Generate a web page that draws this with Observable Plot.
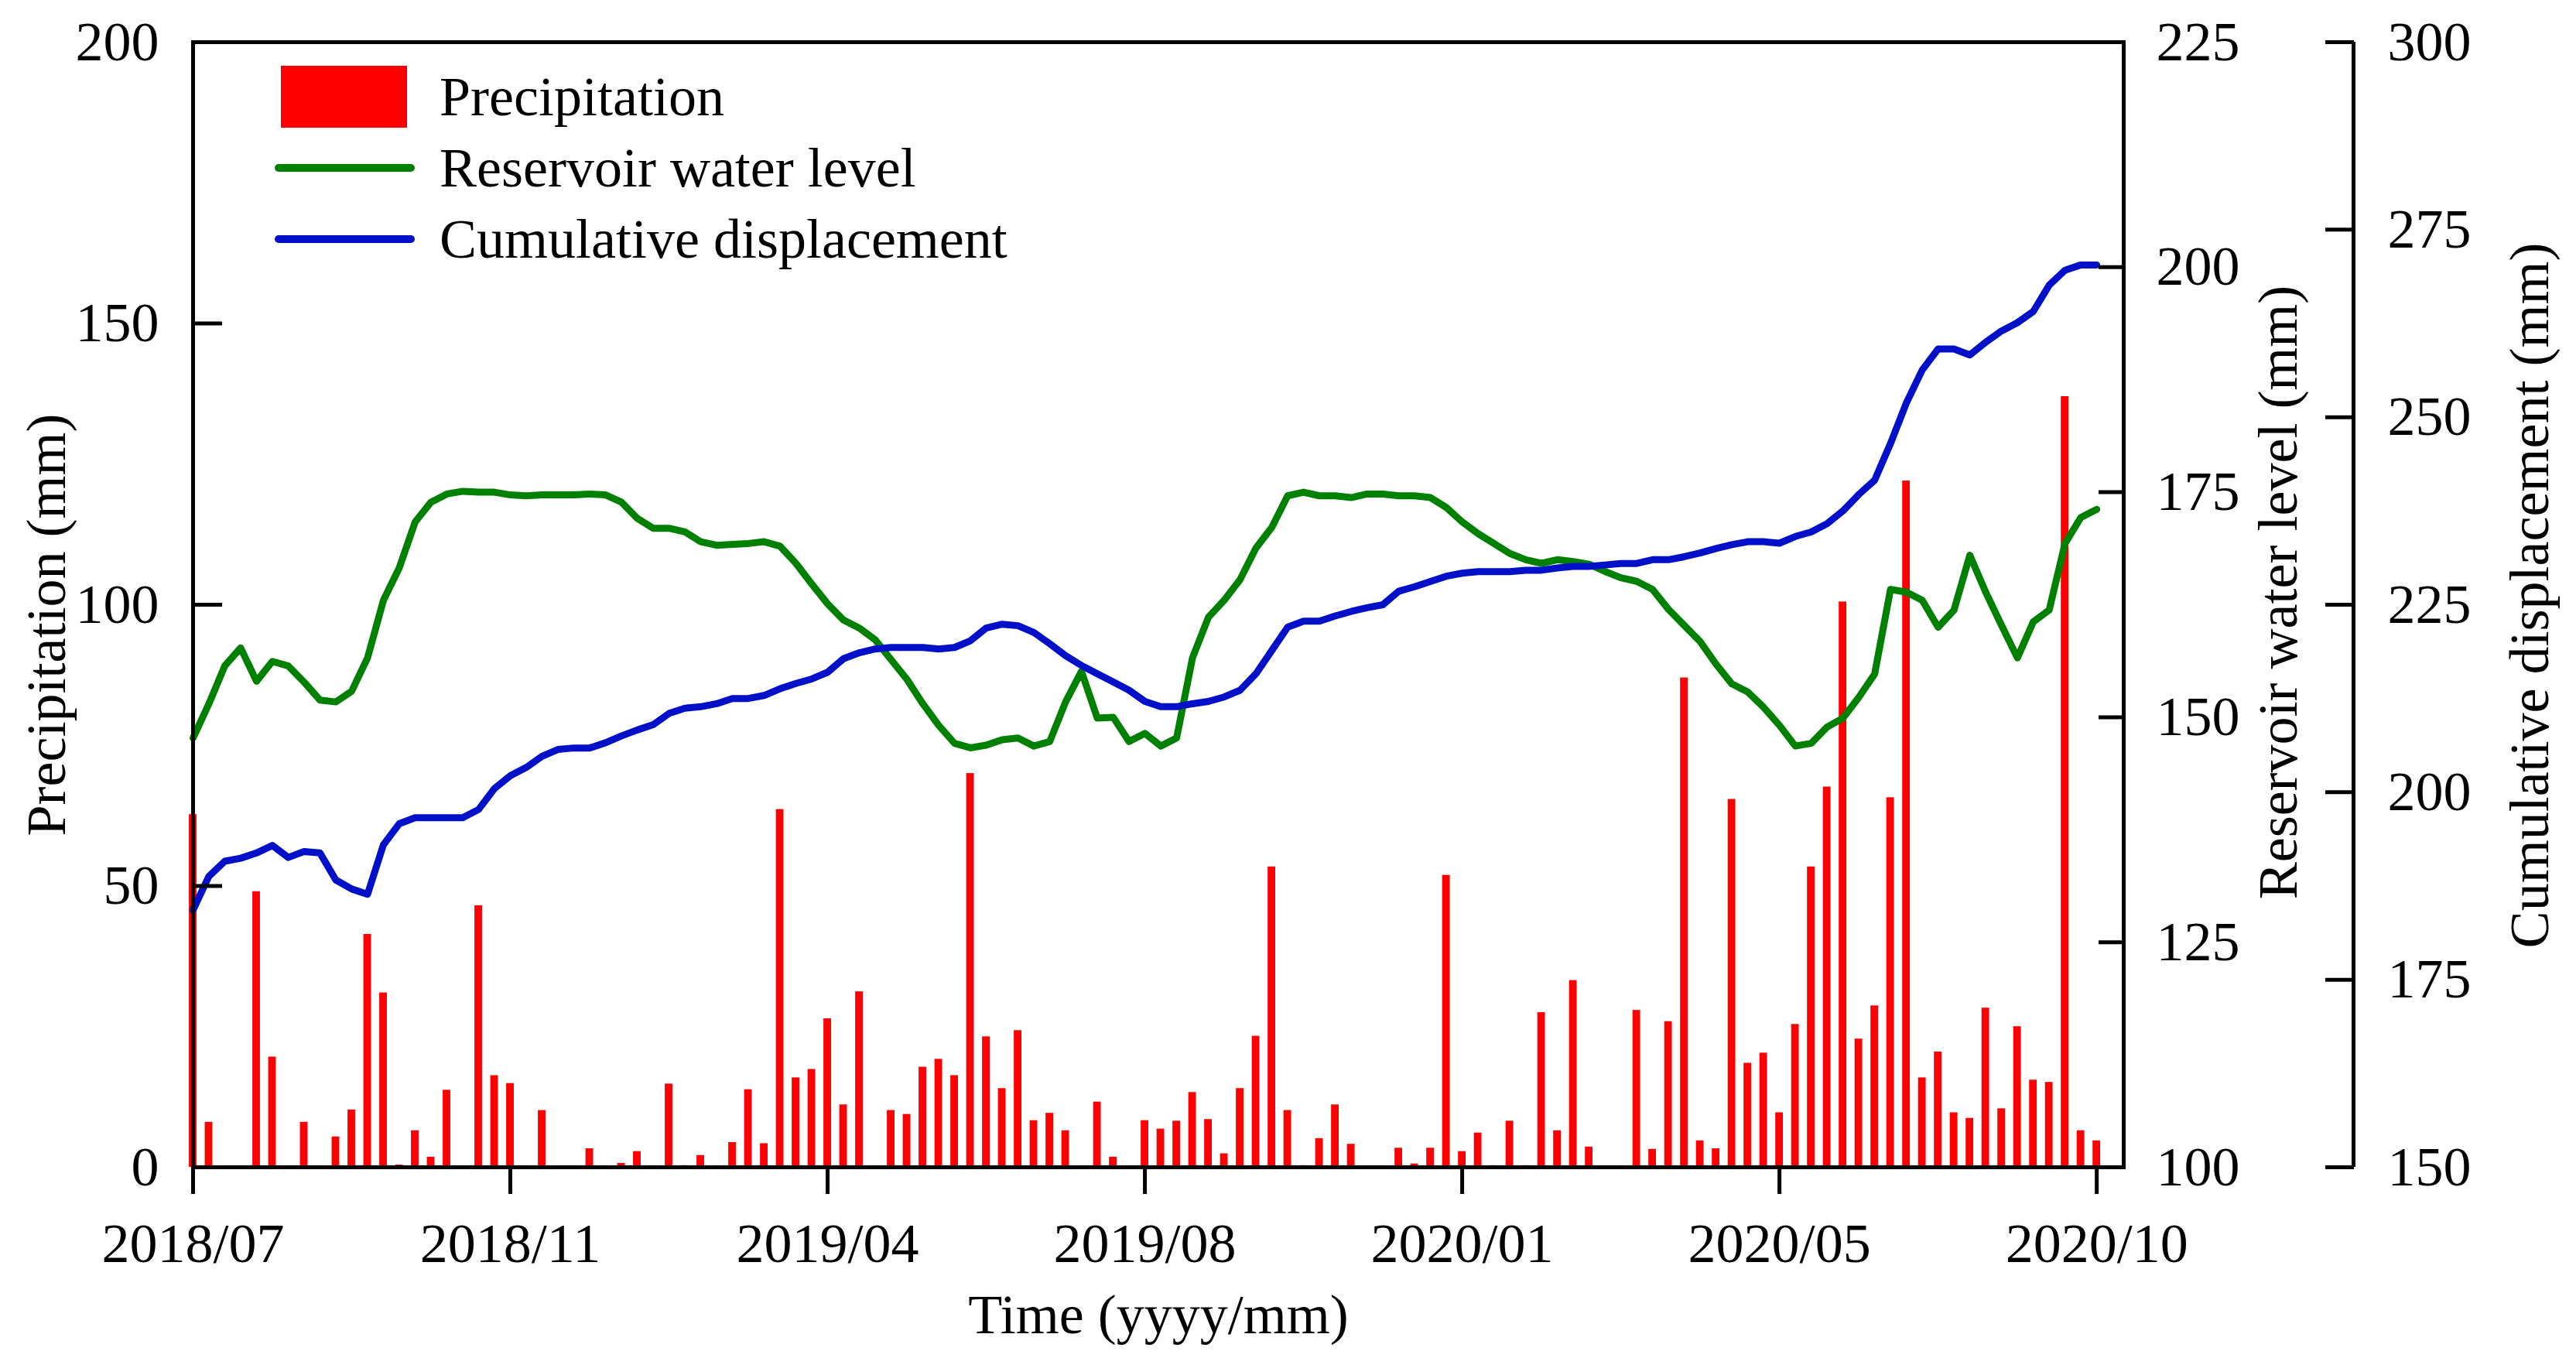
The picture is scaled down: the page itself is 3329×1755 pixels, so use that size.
<!DOCTYPE html>
<html><head><meta charset="utf-8">
<script src="https://cdn.jsdelivr.net/npm/d3@7"></script>
<script src="https://cdn.jsdelivr.net/npm/@observablehq/plot@0.6"></script>
<style>
html,body{margin:0;padding:0;background:#fff;}
#chart svg{display:block;}
</style></head><body><div id="chart"></div>
<script>
// ---- data ----
const xTickIndex = [0, 20, 40, 60, 80, 100, 120];
const xTickLabels = ["2018/07", "2018/11", "2019/04", "2019/08", "2020/01", "2020/05", "2020/10"];

const precipitation = [
  62.7, 8, 0, 0, 49, 19.6, 0, 8, 0, 5.4, 10.2, 41.4, 31, 0.4, 6.5, 1.8, 13.7, 0, 46.5, 16.3,
  14.9, 0, 10.1, 0, 0, 3.3, 0, 0.7, 2.8, 0, 14.8, 0.3, 2.1, 0, 4.4, 13.8, 4.2, 63.6, 15.9, 17.4,
  26.4, 11.1, 31.2, 0, 10.1, 9.4, 17.8, 19.2, 16.3, 70, 23.2, 14.0, 24.3, 8.3, 9.6, 6.5, 0, 11.6, 1.8, 0,
  8.3, 6.8, 8.2, 13.3, 8.5, 2.4, 14.0, 23.3, 53.4, 10.1, 0.3, 5.1, 11.1, 4.1, 0, 0, 3.4, 0.6, 3.4, 51.9,
  2.8, 6.1, 0.3, 8.2, 0.3, 27.5, 6.5, 33.2, 3.6, 0, 0, 27.9, 3.2, 25.9, 87, 4.7, 3.3, 65.4, 18.5, 20.3,
  9.7, 25.4, 53.4, 67.6, 100.5, 22.8, 28.7, 65.7, 122, 15.9, 20.5, 9.7, 8.7, 28.3, 10.4, 25.0, 15.5, 15.1, 137, 6.5,
  4.7
];

const reservoirLevel = [
  147.7, 151.5, 155.7, 157.7, 154.0, 156.2, 155.7, 153.9, 151.9, 151.7, 152.9, 156.6, 163.0, 166.6, 171.7, 173.9, 174.8, 175.1, 175.0, 175.0,
  174.7, 174.6, 174.7, 174.7, 174.7, 174.8, 174.7, 173.9, 172.1, 171.0, 171.0, 170.6, 169.5, 169.1, 169.2, 169.3, 169.5, 169.0, 167.1, 164.8,
  162.6, 160.8, 159.9, 158.6, 156.4, 154.2, 151.5, 149.1, 147.1, 146.6, 146.9, 147.5, 147.7, 146.8, 147.3, 151.7, 155.1, 149.9, 150.0, 147.3,
  148.2, 146.8, 147.7, 156.6, 161.1, 163.0, 165.3, 168.8, 171.1, 174.6, 175.0, 174.6, 174.6, 174.4, 174.8, 174.8, 174.6, 174.6, 174.4, 173.3,
  171.7, 170.4, 169.3, 168.2, 167.5, 167.1, 167.5, 167.3, 167.0, 166.2, 165.5, 165.1, 164.2, 162.0, 160.2, 158.4, 155.9, 153.7, 152.8, 151.1,
  149.1, 146.8, 147.1, 148.9, 149.9, 152.2, 154.8, 164.2, 163.9, 163.0, 160.0, 161.9, 168.0, 163.9, 160.2, 156.6, 160.6, 161.9, 169.3, 172.2,
  173.1
];

const displacement = [
  184.3, 188.8, 190.8, 191.2, 191.9, 192.9, 191.3, 192.1, 191.9, 188.3, 187.1, 186.4, 193.0, 195.8, 196.6, 196.6, 196.6, 196.6, 197.7, 200.5,
  202.2, 203.3, 204.8, 205.7, 205.9, 205.9, 206.6, 207.5, 208.3, 209.0, 210.5, 211.2, 211.4, 211.8, 212.5, 212.5, 212.9, 213.8, 214.5, 215.1,
  216.0, 217.8, 218.6, 219.1, 219.3, 219.3, 219.3, 219.1, 219.3, 220.2, 221.9, 222.4, 222.2, 221.3, 219.8, 218.2, 216.9, 215.8, 214.7, 213.6,
  212.1, 211.4, 211.4, 211.8, 212.1, 212.7, 213.6, 215.8, 218.9, 222.0, 222.8, 222.8, 223.5, 224.1, 224.6, 225.0, 226.8, 227.4, 228.1, 228.8,
  229.2, 229.4, 229.4, 229.4, 229.6, 229.6, 229.9, 230.1, 230.1, 230.3, 230.5, 230.5, 231.0, 231.0, 231.4, 231.9, 232.5, 233.0, 233.4, 233.4,
  233.2, 234.1, 234.7, 235.8, 237.5, 239.7, 241.6, 246.5, 251.9, 256.3, 259.1, 259.1, 258.3, 260.0, 261.5, 262.6, 264.1, 267.6, 269.6, 270.3,
  270.3
];

const leftTicks = [0, 50, 100, 150, 200];
const levelTicks = [100, 125, 150, 175, 200, 225];
const dispTicks = [150, 175, 200, 225, 250, 275, 300];
const legendLabels = ["Precipitation", "Reservoir water level", "Cumulative displacement"];
const titles = {x: "Time (yyyy/mm)", left: "Precipitation (mm)", level: "Reservoir water level (mm)", disp: "Cumulative displacement (mm)"};

// ---- layout ----
const W = 3329, H = 1755;
const mL = 249, mR = 585, mT = 54, mB = 247;
const xMax = 121.7;
const FONT = "'Liberation Serif', 'Times New Roman', serif";
const FS = 72;

// map the two right-hand quantities onto the left (0-200) scale
const levelToY = v => (v - 100) * 200 / 125;
const yToLevel = y => Math.round(y * 125 / 200 + 100);
const dispToY = v => (v - 150) * 200 / 150;
const yToDisp = y => Math.round(y * 150 / 200 + 150);

const rows = precipitation.map((p, i) => ({i, p, level: reservoirLevel[i], disp: displacement[i]}));

const plot = Plot.plot({
  width: W, height: H,
  marginLeft: mL, marginRight: mR, marginTop: mT, marginBottom: mB,
  style: {fontFamily: FONT, fontSize: FS + "px", color: "#000", background: "#fff", overflow: "visible"},
  x: {domain: [0, xMax]},
  y: {domain: [0, 200]},
  marks: [
    Plot.rectY(rows, {x1: d => d.i - 0.24, x2: d => d.i + 0.24, y1: 0, y2: "p", fill: "#ff0000"}),
    Plot.line(rows, {x: "i", y: d => levelToY(d.level), stroke: "#008000", strokeWidth: 9, strokeLinejoin: "round"}),
    Plot.line(rows, {x: "i", y: d => dispToY(d.disp), stroke: "#0010c8", strokeWidth: 9, strokeLinejoin: "round"}),
    Plot.frame({stroke: "#000", strokeWidth: 5}),
    Plot.axisX(xTickIndex, {tickSize: 35, tickPadding: 36, strokeWidth: 5, fontSize: FS,
      tickFormat: d => xTickLabels[xTickIndex.indexOf(d)], label: null}),
    Plot.axisY(leftTicks, {anchor: "left", tickSize: -38, tickPadding: 82, strokeWidth: 5, fontSize: FS, label: null}),
    Plot.axisY(levelTicks.map(levelToY), {anchor: "right", tickSize: -33, tickPadding: 75, strokeWidth: 5, fontSize: FS,
      tickFormat: yToLevel, label: null}),
    Plot.axisY(dispTicks.map(dispToY), {anchor: "right", dx: 297, tickSize: -37, tickPadding: 81, strokeWidth: 5, fontSize: FS,
      tickFormat: yToDisp, label: null}),
    Plot.ruleX([xMax], {dx: 297, y1: 0, y2: 200, stroke: "#000", strokeWidth: 5}),
    Plot.text([titles.x], {frameAnchor: "bottom", dy: 214, lineAnchor: "bottom", textAnchor: "middle", fontSize: FS}),
    Plot.text([titles.left], {frameAnchor: "left", dx: -189, dy: 26, rotate: -90, textAnchor: "middle", lineAnchor: "middle", fontSize: FS}),
    Plot.text([titles.level], {frameAnchor: "right", dx: 200, dy: -16, rotate: -90, textAnchor: "middle", lineAnchor: "middle", fontSize: FS}),
    Plot.text([titles.disp], {frameAnchor: "right", dx: 525, dy: -12, rotate: -90, textAnchor: "middle", lineAnchor: "middle", fontSize: FS})
  ]
});

// legend inside the plot area (top-left)
const svg = d3.select(plot);
const lg = svg.append("g").attr("font-family", FONT).attr("font-size", FS).attr("fill", "#000").attr("text-anchor", "start");
lg.append("rect").attr("x", 363).attr("y", 85).attr("width", 163).attr("height", 80).attr("fill", "#ff0000");
lg.append("line").attr("x1", 360).attr("x2", 531).attr("y1", 217).attr("y2", 217)
  .attr("stroke", "#008000").attr("stroke-width", 10).attr("stroke-linecap", "round");
lg.append("line").attr("x1", 360).attr("x2", 531).attr("y1", 309).attr("y2", 309)
  .attr("stroke", "#0010c8").attr("stroke-width", 10).attr("stroke-linecap", "round");
[149, 241, 333].forEach((y, k) => {
  lg.append("text").attr("x", 568).attr("y", y).attr("text-anchor", "start").text(legendLabels[k]);
});

document.getElementById("chart").appendChild(plot);
</script>
</body></html>
